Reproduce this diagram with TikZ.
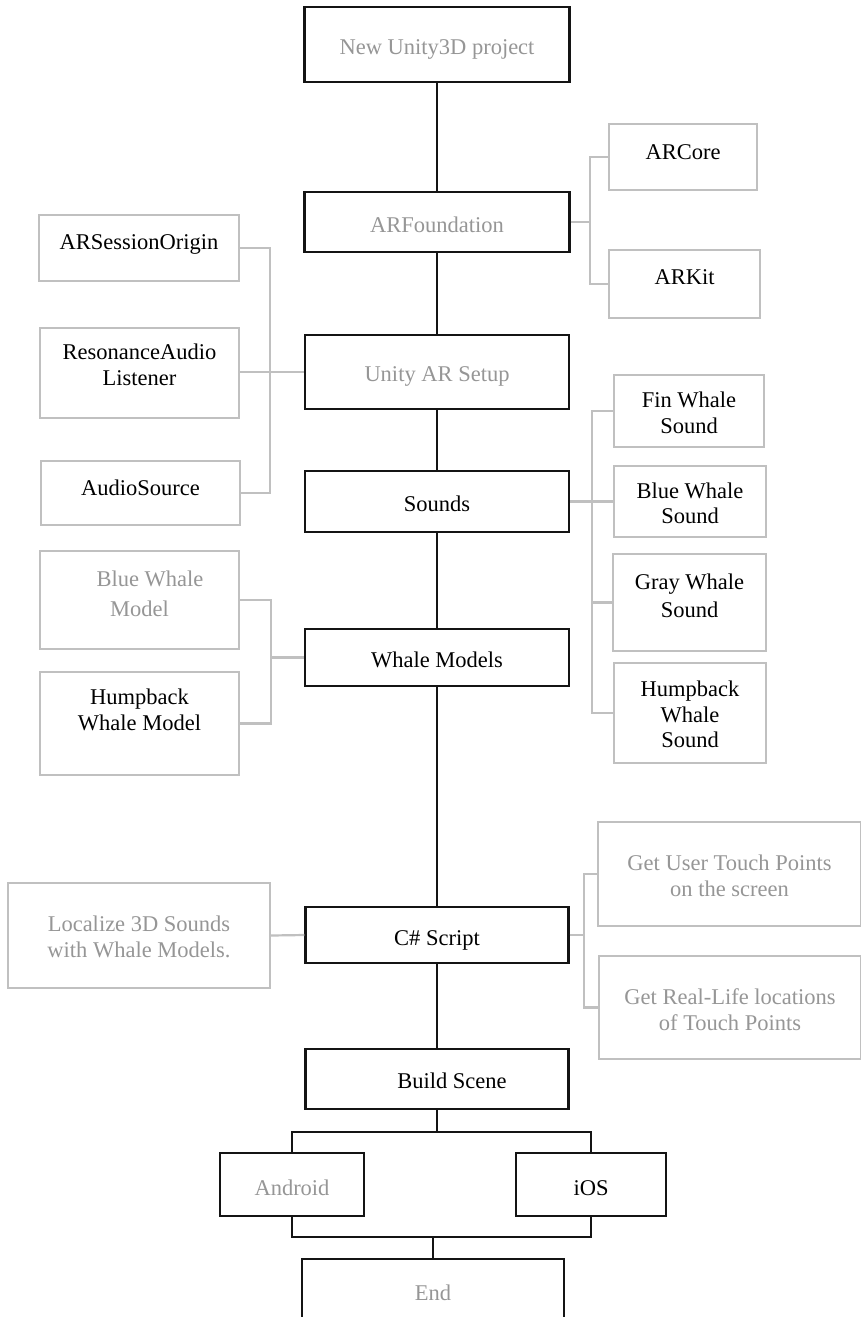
\documentclass[tikz,border=0pt]{standalone}
\usepackage{fontspec}
\setmainfont{Liberation Serif}
\definecolor{boxgray}{RGB}{192,192,192}
\definecolor{txtgray}{RGB}{150,150,150}
\definecolor{ink}{RGB}{20,20,20}
\tikzset{
  base/.style={rectangle, inner sep=0pt, align=center, font=\fontsize{22.5}{25.5}\selectfont},
  bbox/.style={base, draw=ink, line width=2.2pt},
  gbox/.style={base, draw=boxgray, line width=2.2pt},
  gtext/.style={text=txtgray},
  ktext/.style={text=black},
  td/.style={text depth=#1pt},
  tp/.style={text height=#1pt, text depth=0pt},
  mainline/.style={draw=ink, line width=2pt},
  sideline/.style={draw=boxgray, line width=2.2pt},
}
\begin{document}
\begin{tikzpicture}[x=1pt,y=-1pt]
\useasboundingbox[fill=white] (0,0) rectangle (861,1317);
\begin{scope}
\clip (0,0) rectangle (861,1317);
% main column
\node[bbox,gtext,tp=20.6,minimum width=265,minimum height=75] (new) at (437,44.5) {New Unity3D project};
\node[bbox,gtext,tp=21,minimum width=265,minimum height=60] (arf) at (437,222) {ARFoundation};
\node[bbox,gtext,tp=19,minimum width=264,minimum height=74] (unity) at (437,372) {Unity AR Setup};
\node[bbox,ktext,tp=20,minimum width=264,minimum height=61] (sounds) at (437,501.5) {Sounds};
\node[bbox,ktext,tp=19,minimum width=264,minimum height=57] (whale) at (437,657.5) {Whale Models};
\node[bbox,ktext,tp=21,minimum width=263,minimum height=56] (csharp) at (437,935) {C\# Script};
\node[bbox,ktext,tp=19.8,minimum width=263,minimum height=60] (build) at (437,1079) {\hspace*{30pt}Build Scene};
\node[bbox,gtext,tp=21,minimum width=144,minimum height=63] (android) at (292,1184.5) {Android};
\node[bbox,ktext,tp=21,minimum width=150,minimum height=63] (ios) at (591,1184.5) {iOS};
\node[bbox,gtext,tp=15,minimum width=262,minimum height=68] (end) at (433,1293) {End};
% right side
\node[gbox,ktext,td=10.4,minimum width=148,minimum height=66] (arcore) at (683,157) {ARCore};
\node[gbox,ktext,td=14.4,minimum width=151,minimum height=68] (arkit) at (684.5,284) {ARKit};
\node[gbox,ktext,tp=44.5,minimum width=150,minimum height=72] (fin) at (689,411) {Fin Whale\\Sound};
\node[gbox,ktext,tp=44.5,minimum width=152,minimum height=71] (bluesound) at (690,501.5) {Blue Whale\\Sound};
\node[gbox,ktext,td=13.4,minimum width=153,minimum height=97] (gray) at (689.5,602.5) {Gray Whale\\[3pt]Sound};
\node[gbox,ktext,tp=69.4,minimum width=152,minimum height=100] (humpsound) at (690,713) {Humpback\\Whale\\Sound};
\node[gbox,gtext,tp=44.5,minimum width=263,minimum height=104] (touch) at (729.5,874) {Get User Touch Points\\on the screen};
\node[gbox,gtext,tp=45.5,minimum width=262,minimum height=103] (reallife) at (730,1007.5) {Get Real-Life locations\\of Touch Points};
% left side
\node[gbox,ktext,td=11.4,minimum width=200,minimum height=66] (arsess) at (139,248) {ARSessionOrigin};
\node[gbox,ktext,td=16.4,minimum width=199,minimum height=90] (reson) at (139.5,373) {ResonanceAudio\\Listener};
\node[gbox,ktext,td=10.4,minimum width=199,minimum height=64] (audio) at (140.5,493) {AudioSource};
\node[gbox,gtext,td=12.4,minimum width=199,minimum height=98] (bluemodel) at (139.5,600) {\hspace*{21pt}Blue Whale\\[4pt]Model};
\node[gbox,ktext,td=27.4,minimum width=199,minimum height=103] (humpmodel) at (139.5,723.5) {Humpback\\Whale Model};
\node[gbox,gtext,tp=43.9,minimum width=262,minimum height=105] (localize) at (139,935.5) {Localize 3D Sounds\\with Whale Models.};
% junctions
\coordinate (j1) at ([xshift=19pt]arf.east);
\coordinate (j2) at ([xshift=-34pt]unity.west);
\coordinate (j3) at ([xshift=22pt]sounds.east);
\coordinate (j4) at ([xshift=-33pt]whale.west);
\coordinate (j5) at ([xshift=14pt]csharp.east);
\coordinate (b1) at ([yshift=-22pt]build.south);
\coordinate (b2) at (433,1237);
% main connectors
\draw[mainline] (new) -- (arf);
\draw[mainline] (arf) -- (unity);
\draw[mainline] (unity) -- (sounds);
\draw[mainline] (sounds) -- (whale);
\draw[mainline] (whale) -- (csharp);
\draw[mainline] (csharp) -- (build);
\draw[mainline] (build) -- (b1);
\draw[mainline] (android.north) |- (b1) -| (ios.north);
\draw[mainline] (android.south) |- (b2) -| (ios.south);
\draw[mainline] (b2) -- (end);
% side connectors
\draw[sideline] (arf.east) -- (j1);
\draw[sideline] (j1) |- (arcore.west);
\draw[sideline] (j1) |- (arkit.west);
\draw[sideline] (unity.west) -- (j2) -- (reson.east |- j2);
\draw[sideline] (j2) |- (arsess.east);
\draw[sideline] (j2) |- (audio.east);
\draw[sideline] (sounds.east) -- (j3);
\draw[sideline] (j3) |- (fin.west);
\draw[sideline] (j3) |- (bluesound.west);
\draw[sideline] (j3) |- (gray.west);
\draw[sideline] (j3) |- (humpsound.west);
\draw[sideline] (whale.west) -- (j4);
\draw[sideline] (j4) |- (bluemodel.east);
\draw[sideline] (j4) |- (humpmodel.east);
\draw[sideline] (csharp.west) -- (localize.east);
\draw[sideline] (csharp.east) -- (j5);
\draw[sideline] (j5) |- (touch.west);
\draw[sideline] (j5) |- (reallife.west);
\end{scope}
\end{tikzpicture}
\end{document}
